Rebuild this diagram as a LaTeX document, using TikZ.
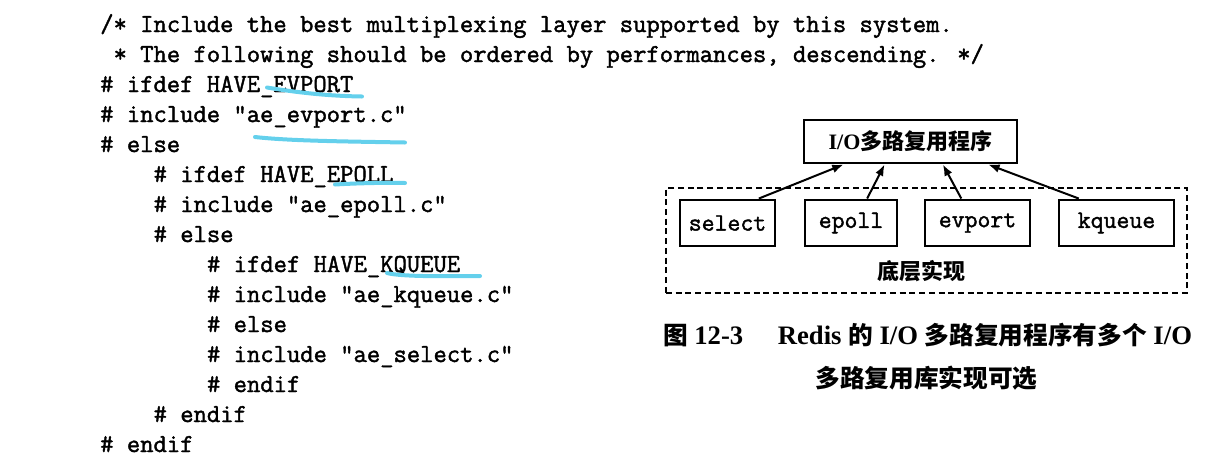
\documentclass[tikz,border=0pt]{standalone}
\usepackage{fontspec}
\setmainfont{Liberation Serif}
\newfontfamily\codefont[BoldFont={Latin Modern Mono}, BoldFeatures={FakeBold=1.6}]{Latin Modern Mono}
\newfontfamily\cjkfont{Noto Sans CJK SC}
\usetikzlibrary{arrows.meta,calc}
\newcommand\zh[1]{{\cjkfont\bfseries #1}}
\newcommand\zhc[1]{{\cjkfont\bfseries\fontsize{18.5pt}{22pt}\selectfont #1}}
\definecolor{hl}{RGB}{100,208,236}
\tikzset{
  codeline/.style={anchor=base west, inner sep=0pt, font=\codefont\bfseries\fontsize{19.4pt}{22pt}\selectfont},
  implbox/.style={draw, line width=2.2pt, minimum height=34.5pt, inner sep=0pt, font=\codefont\bfseries\fontsize{18.8pt}{22pt}\selectfont},
  mainbox/.style={draw, line width=2.2pt, minimum width=159.75pt, minimum height=32.25pt, inner sep=0pt, font=\fontsize{16.5pt}{20pt}\selectfont\bfseries},
  layerbox/.style={draw, line width=2.2pt, dash pattern=on 4.5pt off 2.8pt, minimum width=390.75pt, minimum height=78.75pt, inner sep=0pt},
  hilite/.style={draw=hl, line width=3pt, line cap=round},
  link/.style={line width=1.5pt, -{Latex[length=8.5pt,width=6.5pt]}},
  captext/.style={inner sep=0pt, font=\fontsize{20pt}{24pt}\selectfont\bfseries}
}
\begin{document}
\begin{tikzpicture}[x=0.75pt,y=-0.75pt]
\useasboundingbox (0,0) rectangle (1217,462);
% code listing
\node[codeline] (c1) at (100,32) {/* Include the best multiplexing layer supported by this system.};
\node[codeline] (c2) at (113.35,62) {* The following should be ordered by performances, descending. */};
\node[codeline] (c3) at (100,92) {\# ifdef HAVE\_EVPORT};
\node[codeline] (c4) at (100,122) {\# include "ae\_evport.c"};
\node[codeline] (c5) at (100,152) {\# else};
\node[codeline] (c6) at (153.4,182) {\# ifdef HAVE\_EPOLL};
\node[codeline] (c7) at (153.4,212) {\# include "ae\_epoll.c"};
\node[codeline] (c8) at (153.4,242) {\# else};
\node[codeline] (c9) at (206.8,272) {\# ifdef HAVE\_KQUEUE};
\node[codeline] (c10) at (206.8,302) {\# include "ae\_kqueue.c"};
\node[codeline] (c11) at (206.8,332) {\# else};
\node[codeline] (c12) at (206.8,362) {\# include "ae\_select.c"};
\node[codeline] (c13) at (206.8,392) {\# endif};
\node[codeline] (c14) at (153.4,422) {\# endif};
\node[codeline] (c15) at (100,452) {\# endif};
% highlighter strokes
\draw[hilite] (267,87.5) .. controls (300,93) and (330,96) .. (362,96.5);
\draw[hilite] (255,137) .. controls (290,141) and (350,141.5) .. (405,142.5);
\draw[hilite] (335,184.5) .. controls (360,183) and (390,182.5) .. (405,183);
\draw[hilite] (387,273) .. controls (400,276.5) and (440,276.5) .. (480,276);
% diagram
\node[layerbox] (layer) at (926.5,240.5) {};
\node[mainbox] (top) at (910.5,141.5) {I/O\zh{多路复用程序}};
\node[implbox, minimum width=71.25pt] (sel) at (727.5,223) {select};
\node[implbox, minimum width=69pt] (epo) at (851,223) {epoll};
\node[implbox, minimum width=78.75pt] (evp) at (977.5,223) {evport};
\node[implbox, minimum width=86.25pt] (kqu) at (1116.5,223) {kqueue};
\node[inner sep=0pt, font=\fontsize{16.5pt}{20pt}\selectfont] (lbl) at (921,271) {\zh{底层实现}};
\draw[link] ($(sel.north west)!0.82!(sel.north east)$) -- ($(top.south west)!0.19!(top.south east)$);
\draw[link] ($(epo.north west)!0.67!(epo.north east)$) -- ($(top.south west)!0.38!(top.south east)$);
\draw[link] ($(evp.north west)!0.35!(evp.north east)$) -- ($(top.south west)!0.65!(top.south east)$);
\draw[link] ($(kqu.north west)!0.18!(kqu.north east)$) -- ($(top.south west)!0.86!(top.south east)$);
% caption
\node[captext] (cap1) at (927.5,335) {\zhc{图} 12-3\hspace{1.3em}Redis \zhc{的} I/O \zhc{多路复用程序有多个} I/O};
\node[captext] (cap2) at (926.5,378) {\zhc{多路复用库实现可选}};
\end{tikzpicture}
\end{document}
